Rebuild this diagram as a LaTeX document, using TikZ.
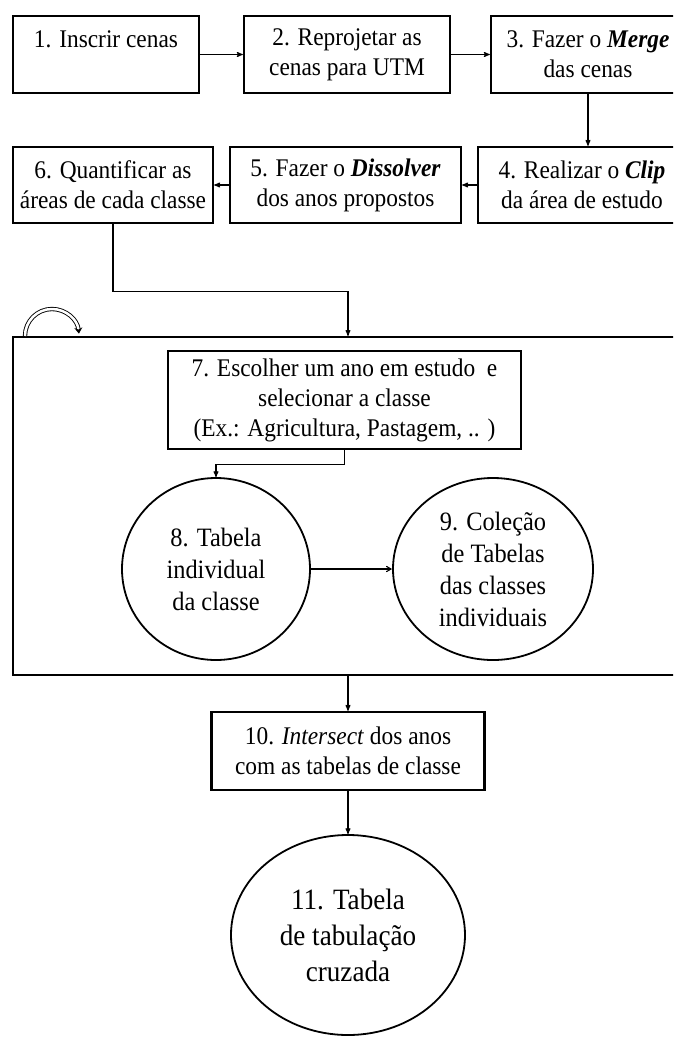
\documentclass[tikz,border=0pt]{standalone}
\usepackage{fontspec}
\setmainfont{Liberation Serif}[FakeStretch=0.92]
\usetikzlibrary{shapes,arrows,arrows.meta,positioning}

\begin{document}
\begin{tikzpicture}[x=1pt,y=1pt,
	caixa/.style={draw,line width=2.4pt,align=center,inner sep=2pt,font=\fontsize{25.4}{30}\selectfont},
	elipse/.style={draw,ellipse,line width=1.8pt,align=center,inner sep=0pt,font=\fontsize{26.5}{32}\selectfont},
	seta/.style={->,>=stealth',line width=1.1pt}]
	\useasboundingbox (0,0) rectangle (673,-1037);
	\clip (0,0) rectangle (673,-1037);

	% primeira linha
	\node[caixa,minimum width=186pt,minimum height=77pt] (C1) at (106,-54.5) {1. Inscrir cenas\\ \mbox{}};
	\node[caixa,minimum width=206pt,minimum height=77pt] (C2) at (347,-54.5) {2. Reprojetar as\\ cenas para UTM};
	\node[caixa,minimum width=194pt,minimum height=77pt] (C3) at (588,-54.5) {3. Fazer o \textbf{\textit{Merge}}\\ das cenas};

	% segunda linha
	\node[caixa,minimum width=208pt,minimum height=76pt] (C4) at (582,-185) {4. Realizar o \textbf{\textit{Clip}}\\ da área de estudo};
	\node[caixa,minimum width=231pt,minimum height=76pt] (C5) at (345.5,-185) {5. Fazer o \textbf{\textit{Dissolver}}\\ dos anos propostos};
	\node[caixa,minimum width=200pt,minimum height=76pt] (C6) at (113,-185) {6. Quantificar as\\ áreas de cada classe};

	% quadro do laço
	\node[draw,line width=2.2pt,minimum width=670pt,minimum height=338pt] (quadro) at (348,-506) {};
	\draw[double,double distance=2.5pt,line width=0.9pt,-{Stealth[length=6pt,width=8pt]}] (25,-336) arc (180:5:27);

	\node[caixa,minimum width=353pt,minimum height=98pt] (C7) at (344.5,-400) {7. Escolher um ano em estudo~ e\\ selecionar a classe\\ (Ex.: Agricultura, Pastagem, .. )};
	\node[elipse,minimum width=188pt,minimum height=182pt] (E8) at (216,-569) {8. Tabela\\ individual\\ da classe};
	\node[elipse,minimum width=200pt,minimum height=182pt] (E9) at (493,-569) {9. Coleção\\ de Tabelas\\ das classes\\ individuais};

	% final
	\node[caixa,minimum width=273pt,minimum height=78pt] (C10) at (348,-751) {10. \textit{Intersect} dos anos\\ com as tabelas de classe};
	\node[elipse,minimum width=234pt,minimum height=200pt,font=\fontsize{29.5}{36}\selectfont] (E11) at (348,-935) {11. Tabela\\ de tabulação\\ cruzada};

	\path [seta]
		(C1) edge (C2)
		(C2) edge (C3)
		(C3.south) edge (C3.south |- C4.north)
		(C4) edge (C5)
		(C5) edge (C6)
		(C10) edge (E11);
	\draw[seta] (C6.south) -- ++(0,-67) -| (quadro.north);
	\draw[seta] (C7.south) -- ++(0,-14) -| (E8.north);
	\draw[seta,>=angle 60] (E8) -- (E9);
	\draw[seta] (quadro.south) -- (quadro.south |- C10.north);
\end{tikzpicture}
\end{document}
